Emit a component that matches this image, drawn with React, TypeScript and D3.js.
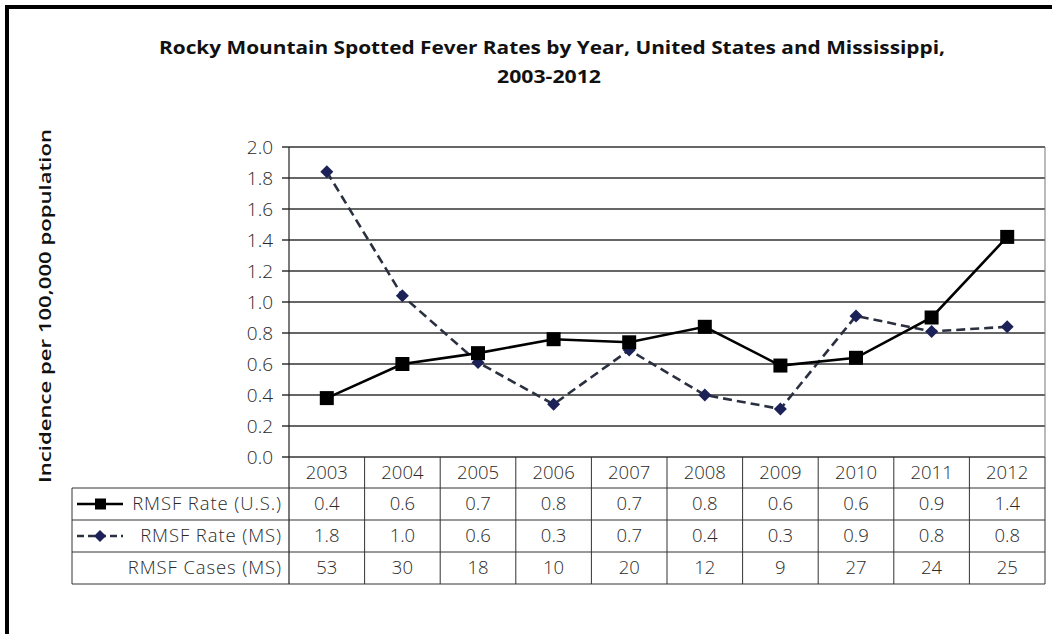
import React, { useMemo } from 'react';
import * as d3 from 'd3';

const years = ['2003', '2004', '2005', '2006', '2007', '2008', '2009', '2010', '2011', '2012'];
const usRate = [0.38, 0.6, 0.67, 0.76, 0.74, 0.84, 0.59, 0.64, 0.9, 1.42];
const msRate = [1.84, 1.04, 0.61, 0.34, 0.69, 0.4, 0.31, 0.91, 0.81, 0.84];
const usRateLabels = ['0.4', '0.6', '0.7', '0.8', '0.7', '0.8', '0.6', '0.6', '0.9', '1.4'];
const msRateLabels = ['1.8', '1.0', '0.6', '0.3', '0.7', '0.4', '0.3', '0.9', '0.8', '0.8'];
const msCases = ['53', '30', '18', '10', '20', '12', '9', '27', '24', '25'];
const yTicks = [0, 0.2, 0.4, 0.6, 0.8, 1.0, 1.2, 1.4, 1.6, 1.8, 2.0];

const W = 1052;
const H = 634;
const FONT = '"Open Sans", Lato, sans-serif';

const App: React.FC = () => {
  const left = 289;
  const right = 1045;
  const top = 147;
  const bottom = 457;
  const rowH = 32;
  const tableLeft = 72;

  const x = useMemo(() => d3.scaleBand<string>().domain(years).range([left, right]), []);
  const y = useMemo(() => d3.scaleLinear().domain([0, 2]).range([bottom, top]), []);
  const cx = (yr: string) => (x(yr) as number) + x.bandwidth() / 2;

  const line = d3.line<number>()
    .x((_, i) => cx(years[i]))
    .y((d) => y(d));

  const rowsTop = bottom + rowH - 1; // first data row top
  const tableBottom = rowsTop + rowH * 3;
  const rows = [
    { label: 'RMSF Rate (U.S.)', values: usRateLabels, key: 'us' },
    { label: 'RMSF Rate (MS)', values: msRateLabels, key: 'ms' },
    { label: 'RMSF Cases (MS)', values: msCases, key: 'none' },
  ];

  const diamond = (px: number, py: number, r: number) =>
    `M${px},${py - r}L${px + r},${py}L${px},${py + r}L${px - r},${py}Z`;

  const txt = { fontSize: 18.5, fontWeight: 300, fill: '#2a2a2a' };

  return (
    <svg width={W} height={H} style={{ position: 'absolute', left: 0, top: 0, background: '#fff' }}
      fontFamily={FONT}>
      <rect x={0} y={0} width={W} height={H} fill="#fff" />
      {/* outer frame, open at right and bottom */}
      <path d={`M7,${H}V7H${W}`} fill="none" stroke="#000" strokeWidth={4} />

      {/* title */}
      <text x={552} y={54} textAnchor="middle" fontSize={18} fontWeight={700} fill="#111"
        textLength={786} lengthAdjust="spacingAndGlyphs">
        Rocky Mountain Spotted Fever Rates by Year, United States and Mississippi,
      </text>
      <text x={549} y={83} textAnchor="middle" fontSize={18} fontWeight={700} fill="#111"
        textLength={104} lengthAdjust="spacingAndGlyphs">
        2003-2012
      </text>

      {/* y axis label */}
      <text transform={`translate(51,306) rotate(-90)`} textAnchor="middle" fontSize={17}
        fontWeight={600} fill="#111" textLength={354} lengthAdjust="spacingAndGlyphs">
        Incidence per 100,000 population
      </text>

      {/* gridlines and ticks */}
      {yTicks.map((t) => (
        <g key={t}>
          <line x1={left - 7} x2={right} y1={y(t)} y2={y(t)} stroke="#333" strokeWidth={1.4} />
          <text x={273} y={y(t)} dy="0.35em" textAnchor="end" {...txt} fontSize={19}>
            {t.toFixed(1)}
          </text>
        </g>
      ))}
      <line x1={right} x2={right} y1={top} y2={bottom} stroke="#777" strokeWidth={1} />
      <line x1={left} x2={left} y1={top} y2={tableBottom} stroke="#222" strokeWidth={1.2} />

      {/* data table */}
      <g stroke="#333" strokeWidth={1}>
        {years.map((yr) => (
          <line key={yr} x1={(x(yr) as number) + x.bandwidth()} x2={(x(yr) as number) + x.bandwidth()}
            y1={bottom} y2={tableBottom} />
        ))}
        {[0, 1, 2, 3].map((i) => (
          <line key={i} x1={tableLeft} x2={right} y1={rowsTop + i * rowH} y2={rowsTop + i * rowH} />
        ))}
        <line x1={tableLeft} x2={tableLeft} y1={rowsTop} y2={tableBottom} />
      </g>
      {years.map((yr) => (
        <text key={yr} x={cx(yr)} y={bottom + rowH / 2} dy="0.35em" textAnchor="middle" {...txt}>
          {yr}
        </text>
      ))}
      {rows.map((r, ri) => {
        const cy = rowsTop + ri * rowH + rowH / 2;
        return (
          <g key={r.key}>
            {r.key === 'us' && (
              <g>
                <line x1={77} x2={123} y1={cy} y2={cy} stroke="#000" strokeWidth={2.5} />
                <rect x={95} y={cy - 5.5} width={11} height={11} fill="#000" />
              </g>
            )}
            {r.key === 'ms' && (
              <g>
                <line x1={77} x2={123} y1={cy} y2={cy} stroke="#2a3040" strokeWidth={2.5} strokeDasharray="7,4" />
                <path d={diamond(100, cy, 6)} fill="#1c2258" />
              </g>
            )}
            <text x={282} y={cy} dy="0.35em" textAnchor="end" {...txt} letterSpacing={0.9}>
              {r.label}
            </text>
            {r.values.map((v, i) => (
              <text key={i} x={cx(years[i])} y={cy} dy="0.35em" textAnchor="middle" {...txt}>
                {v}
              </text>
            ))}
          </g>
        );
      })}

      {/* MS series */}
      <path d={line(msRate) || ''} fill="none" stroke="#2a3040" strokeWidth={2.6} strokeDasharray="9,5" />
      {msRate.map((v, i) => (
        <path key={i} d={diamond(cx(years[i]), y(v), 6.5)} fill="#1c2258" />
      ))}

      {/* US series */}
      <path d={line(usRate) || ''} fill="none" stroke="#000" strokeWidth={2.6} />
      {usRate.map((v, i) => (
        <rect key={i} x={cx(years[i]) - 7} y={y(v) - 7} width={14} height={14} fill="#000" />
      ))}
    </svg>
  );
};

export default App;
